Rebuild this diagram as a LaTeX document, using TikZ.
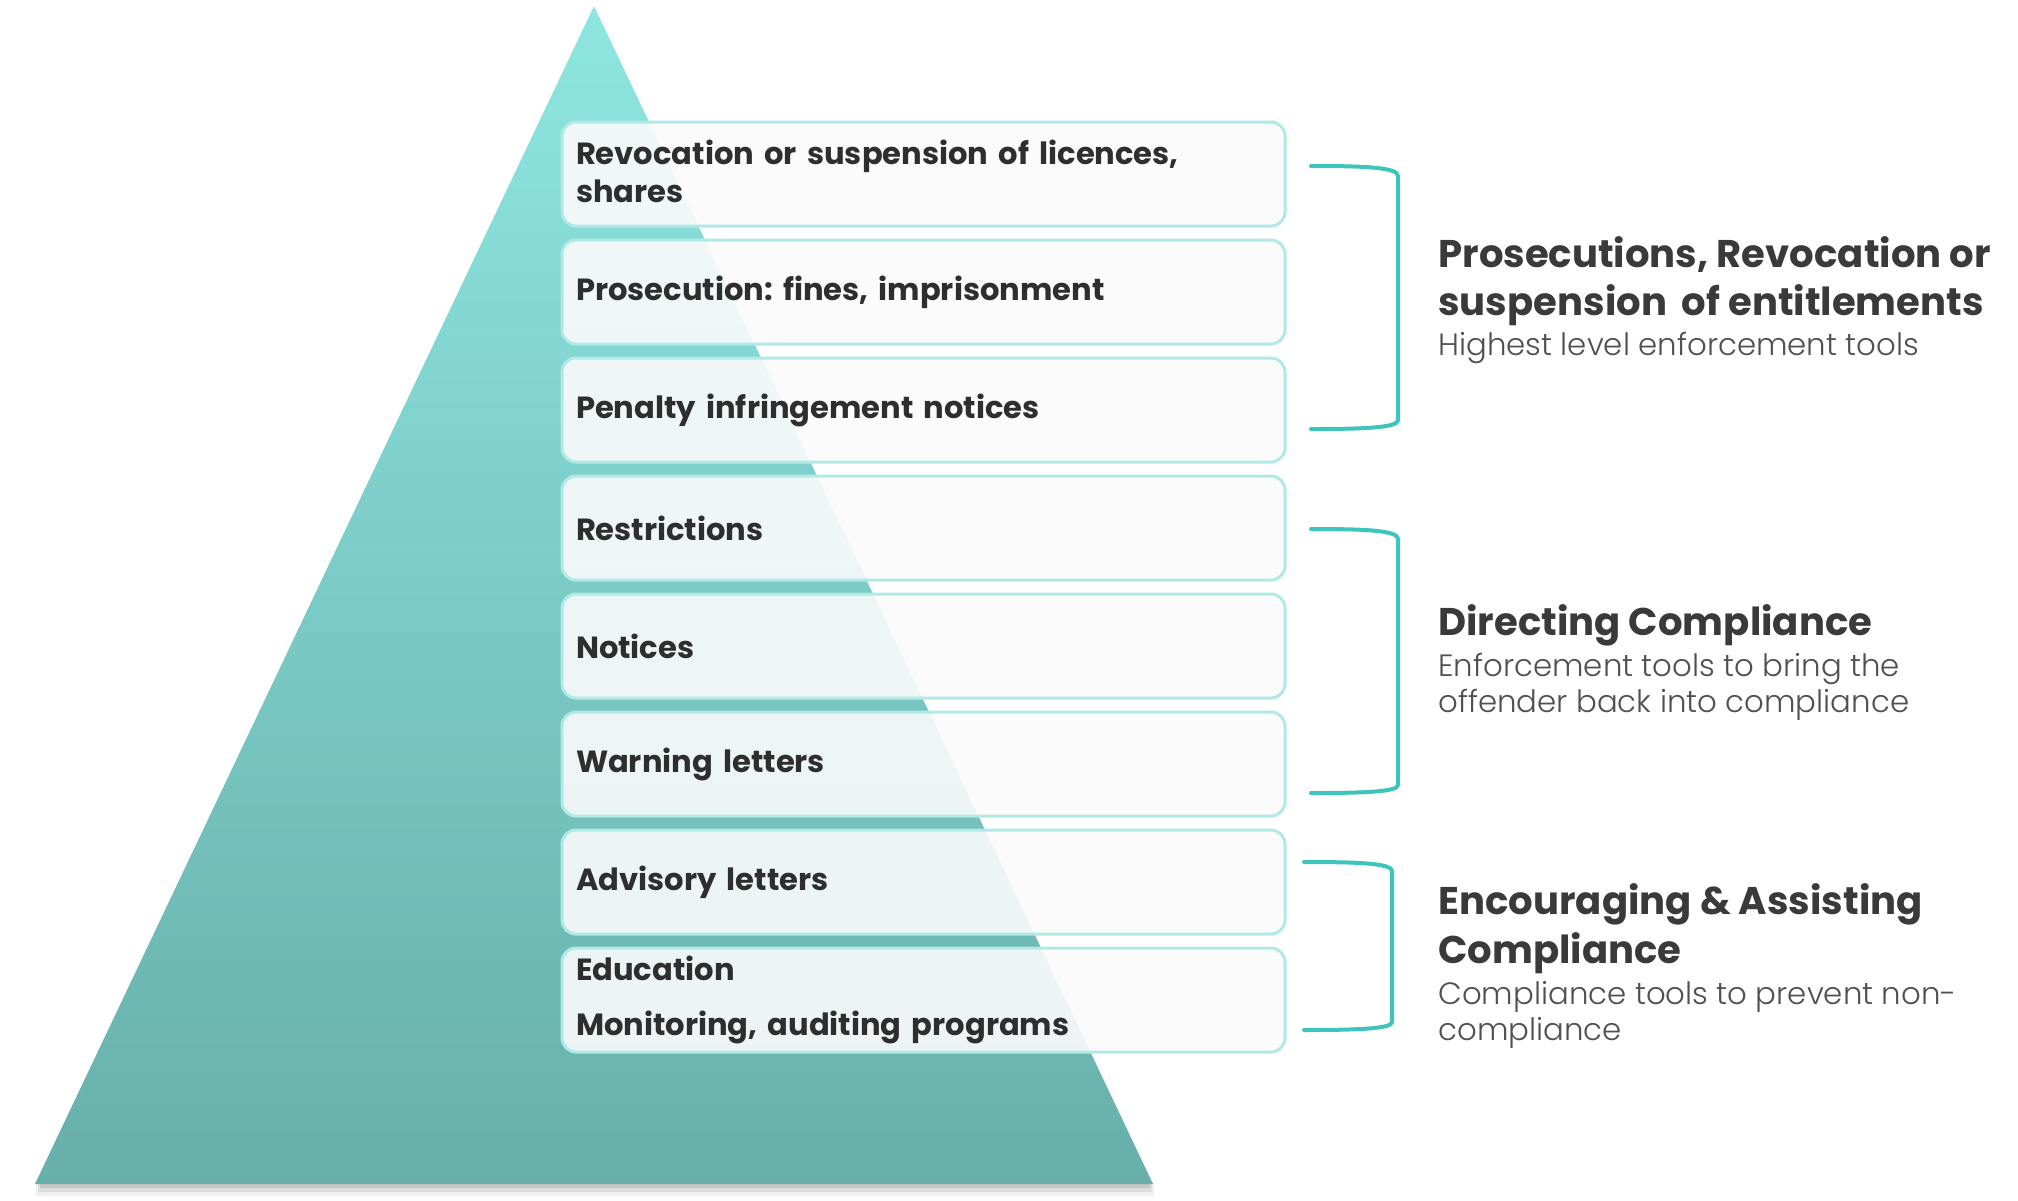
\documentclass[tikz,border=0pt]{standalone}
\usepackage{fontspec}
\setmainfont{Poppins}
\newfontfamily\poplight{Poppins Light}
\frenchspacing
\definecolor{pyrtop}{HTML}{8EE6E1}
\definecolor{pyrbot}{HTML}{68AFAB}
\definecolor{boxline}{HTML}{B0EAE7}
\definecolor{boxfill}{HTML}{FBFBFB}
\definecolor{brk}{HTML}{3CC4BD}
\definecolor{txt}{HTML}{2E2E2E}
\definecolor{headc}{HTML}{3A3A3A}
\definecolor{subc}{HTML}{505050}
\tikzset{
  tier/.style={draw=boxline, line width=1.5pt, fill=boxfill, fill opacity=0.9, text opacity=1,
    rounded corners=7pt, minimum height=52pt, text width=347.5pt, inner xsep=7pt, inner ysep=0pt,
    align=left, font=\bfseries\fontsize{15.3}{19}\selectfont, text=txt, anchor=center},
  bracketline/.style={draw=brk, line width=2pt, line cap=round},
  headtxt/.style={anchor=base west, inner sep=0pt, font=\bfseries\fontsize{19.3}{23}\selectfont, text=headc},
  subtxt/.style={anchor=base west, inner sep=0pt, font=\poplight\fontsize{15.4}{18}\selectfont, text=subc},
}
\begin{document}
\begin{tikzpicture}[x=0.5pt,y=-0.5pt]
\fill[white] (0,0) rectangle (2018,1200);
\useasboundingbox (0,0) rectangle (2018,1200);
% pyramid shadow
\fill[black, opacity=0.06] (36,1182) rectangle (1154,1196);
\fill[black, opacity=0.08] (38,1182) rectangle (1152,1192);
\fill[black, opacity=0.10] (40,1182) rectangle (1150,1188);
% pyramid
\shade[top color=pyrtop, bottom color=pyrbot] (594,6) -- (1153,1184) -- (35,1184) -- cycle;
% tiers
\node[tier] (t1) at (923.5,174) {Revocation or suspension of licences,\\shares\vspace{3pt}};
\node[tier] (t2) at (923.5,292) {Prosecution: fines, imprisonment};
\node[tier] (t3) at (923.5,410) {Penalty infringement notices};
\node[tier] (t4) at (923.5,528) {Restrictions};
\node[tier] (t5) at (923.5,646) {Notices};
\node[tier] (t6) at (923.5,764) {Warning letters};
\node[tier] (t7) at (923.5,882) {Advisory letters};
\node[tier] (t8) at (923.5,1000) {Education\\[8.5pt]Monitoring, auditing programs};
% brackets
\draw[bracketline] (1311,166) .. controls (1362,166) and (1398,167) .. (1398,176) -- (1398,420)
  .. controls (1398,428) and (1362,429) .. (1311,429);
\draw[bracketline] (1311,529) .. controls (1362,529) and (1398,530) .. (1398,539) -- (1398,785)
  .. controls (1398,792) and (1362,793) .. (1311,793);
\draw[bracketline] (1304,862) .. controls (1355,862) and (1392,863) .. (1392,871) -- (1392,1022)
  .. controls (1392,1029) and (1355,1030) .. (1304,1030);
% group labels
\node[headtxt] (h1a) at (1438,267) {Prosecutions, Revocation or};
\node[headtxt] (h1b) at (1438,315) {suspension\, of entitlements};
\node[subtxt]  (s1a) at (1438,355) {Highest level enforcement tools};
\node[headtxt] (h2a) at (1438,635) {Directing Compliance};
\node[subtxt]  (s2a) at (1438,676) {Enforcement tools to bring the};
\node[subtxt]  (s2b) at (1438,712) {offender back into compliance};
\node[headtxt] (h3a) at (1438,914) {Encouraging \& Assisting};
\node[headtxt] (h3b) at (1438,963) {Compliance};
\node[subtxt]  (s3a) at (1438,1004) {Compliance tools to prevent non-};
\node[subtxt]  (s3b) at (1438,1040) {compliance};
\end{tikzpicture}
\end{document}
